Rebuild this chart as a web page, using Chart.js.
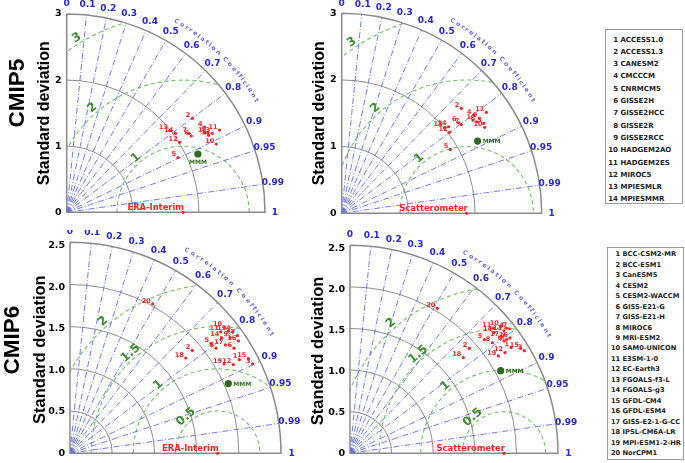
<!DOCTYPE html>
<html>
<head>
<meta charset="utf-8">
<script src="https://cdn.jsdelivr.net/npm/chart.js@4.4.0/dist/chart.umd.min.js"></script>
<style>
  body { margin: 0; background: #fff; }
  #wrap { position: relative; width: 685px; height: 463px; overflow: hidden; background: #fff; }
  #wrap canvas { position: absolute; }
  .group { position: absolute; font-family: "Liberation Sans", sans-serif; font-weight: bold; font-size: 22.5px;
           color: #000; white-space: nowrap; transform: translate(-50%, -50%) rotate(-90deg); }
  .legend { position: absolute; box-sizing: border-box; border: 1px solid #9a9a9a; background: #fff;
            font-family: "DejaVu Sans", sans-serif; font-weight: bold; color: #222; }
  .legend .item { position: absolute; left: 0; white-space: nowrap; color: #222; }
  .legend .num { display: inline-block; text-align: right; color: #222; }
</style>
</head>
<body>
<div id="wrap">
  <canvas id="c5era" width="300" height="230" style="left:0;top:0"></canvas>
  <canvas id="c5sca" width="300" height="230" style="left:300px;top:0"></canvas>
  <canvas id="c6era" width="300" height="233" style="left:0;top:230px"></canvas>
  <canvas id="c6sca" width="300" height="233" style="left:300px;top:230px"></canvas>
  <div class="group" style="left:16.7px;top:92.5px">CMIP5</div>
  <div class="group" style="left:11.7px;top:340px">CMIP6</div>
  <div class="legend" id="leg5" style="left:605px;top:29px;width:78px;height:175px"></div>
  <div class="legend" id="leg6" style="left:606.7px;top:247.3px;width:77px;height:213px"></div>
</div>
<script>
// Correlation spokes / labels
const corrTicks = [0, 0.1, 0.2, 0.3, 0.4, 0.5, 0.6, 0.7, 0.8, 0.9, 0.95, 0.99, 1];

// Model names
const cmip5Models = ['ACCESS1.0', 'ACCESS1.3', 'CANESM2', 'CMCCCM', 'CNRMCM5', 'GISSE2H', 'GISSE2HCC',
    'GISSE2R', 'GISSE2RCC', 'HADGEM2AO', 'HADGEM2ES', 'MIROC5', 'MPIESMLR', 'MPIESMMR'];
const cmip6Models = ['BCC-CSM2-MR', 'BCC-ESM1', 'CanESM5', 'CESM2', 'CESM2-WACCM', 'GISS-E21-G', 'GISS-E21-H',
    'MIROC6', 'MRI-ESM2', 'SAM0-UNICON', 'E3SM-1-0', 'EC-Earth3', 'FGOALS-f3-L', 'FGOALS-g3', 'GFDL-CM4',
    'GFDL-ESM4', 'GISS-E2-1-G-CC', 'IPSL-CM6A-LR', 'MPI-ESM1-2-HR', 'NorCPM1'];

// Point positions in the diagram plane (x = std*corr, y = std*sin(acos corr))
const cmip5EraX = [2.086, 1.900, 2.202, 2.086, 1.683, 1.885, 1.849, 2.146, 2.136, 2.262, 2.312, 1.709, 1.558, 1.644];
const cmip5EraY = [1.199, 1.421, 1.195, 1.290, 0.827, 1.154, 1.195, 1.165, 1.204, 1.033, 1.244, 1.059, 1.234, 1.195];
const cmip5EraMMM = [1.985, 0.882];
const cmip5SatX = [1.970, 1.794, 2.130, 1.979, 1.628, 1.754, 1.794, 2.030, 2.065, 2.144, 2.170, 1.618, 1.543, 1.603];
const cmip5SatY = [1.398, 1.574, 1.349, 1.474, 0.958, 1.358, 1.331, 1.373, 1.424, 1.289, 1.514, 1.214, 1.283, 1.298];
const cmip5SatMMM = [2.039, 1.083];

const cmip6EraX = [2.006, 1.449, 2.164, 1.927, 1.671, 1.943, 1.983, 1.730, 1.896, 1.825,
                   1.785, 1.935, 1.876, 1.793, 2.113, 1.995, 1.840, 1.371, 1.825, 0.980];
const cmip6EraY = [1.129, 1.240, 1.078, 1.465, 1.323, 1.268, 1.418, 1.268, 1.394, 1.517,
                   1.465, 1.070, 1.473, 1.394, 1.141, 1.355, 1.307, 1.149, 1.078, 1.801];
const cmip6EraMMM = [1.876, 0.841];
const cmip6SatX = [1.936, 1.434, 2.095, 1.875, 1.614, 1.851, 1.915, 1.711, 1.883, 1.811,
                   1.722, 1.863, 1.851, 1.730, 2.052, 1.923, 1.815, 1.362, 1.783, 1.050];
const cmip6SatY = [1.292, 1.280, 1.252, 1.528, 1.388, 1.372, 1.520, 1.349, 1.392, 1.549,
                   1.528, 1.229, 1.493, 1.473, 1.280, 1.408, 1.420, 1.168, 1.188, 1.769];
const cmip6SatMMM = [1.811, 1.008];

// Reference std (observations)
const refEra5 = 1.76, refSat5 = 1.875, refEra6 = 1.75, refSat6 = 1.85;

// Grid circles
const stdCircles5 = [1, 2], rmsCircles5 = [1, 2, 3];
const stdCircles6 = [0.5, 1, 1.5, 2], rmsCircles6 = [0.5, 1, 1.5, 2];

const RED = '#ff1f1f';
const MMM_GREEN = '#2f6b1f';
const BLUE = '#2626dd';
const SPOKE = '#5566f5';
const RMS_GREEN = '#72c266';
const DEG = Math.PI / 180;

// Taylor grid + labels plugin
function taylorPlugin(cfg) {
    function frame(chart) {
        const xs = chart.scales.x, ys = chart.scales.y;
        const ox = xs.getPixelForValue(0), oy = ys.getPixelForValue(0);
        const k = xs.getPixelForValue(1) - ox;
        return { ox, oy, k, Rp: cfg.R * k, refX: xs.getPixelForValue(cfg.ref) };
    }
    return {
        id: 'taylor',
        beforeDatasetsDraw(chart) {
            const ctx = chart.ctx;
            const { ox, oy, k, Rp, refX } = frame(chart);
            ctx.save();
            ctx.beginPath();
            ctx.moveTo(ox, oy);
            ctx.lineTo(ox + Rp, oy);
            ctx.arc(ox, oy, Rp, 0, -Math.PI / 2, true);
            ctx.closePath();
            ctx.clip();

            // RMS circles round the reference
            ctx.strokeStyle = RMS_GREEN;
            ctx.lineWidth = 1.1;
            ctx.setLineDash([4, 3]);
            cfg.rms.forEach(r => {
                ctx.beginPath();
                ctx.arc(refX, oy, r * k, Math.PI, 2 * Math.PI, false);
                ctx.stroke();
            });

            // std circles
            ctx.setLineDash([]);
            ctx.strokeStyle = '#8f8f8f';
            ctx.lineWidth = 1;
            cfg.std.forEach(r => {
                ctx.beginPath();
                ctx.arc(ox, oy, r * k, -Math.PI / 2, 0, false);
                ctx.stroke();
            });

            // correlation spokes
            ctx.strokeStyle = SPOKE;
            ctx.lineWidth = 0.85;
            ctx.setLineDash([6, 2, 1, 2]);
            corrTicks.filter(c => c > 0 && c < 1).forEach(c => {
                const a = Math.acos(c);
                ctx.beginPath();
                ctx.moveTo(ox, oy);
                ctx.lineTo(ox + Rp * Math.cos(a), oy - Rp * Math.sin(a));
                ctx.stroke();
            });
            ctx.restore();

            // outer frame
            ctx.save();
            ctx.strokeStyle = '#8a8a8a';
            ctx.lineWidth = 1.5;
            ctx.beginPath();
            ctx.moveTo(ox, oy - Rp);
            ctx.lineTo(ox, oy);
            ctx.lineTo(ox + Rp, oy);
            ctx.arc(ox, oy, Rp, 0, -Math.PI / 2, true);
            ctx.stroke();

            // correlation labels
            ctx.fillStyle = BLUE;
            ctx.font = 'bold 9px "DejaVu Sans"';
            ctx.textAlign = 'center';
            ctx.textBaseline = 'middle';
            corrTicks.forEach(c => {
                const a = Math.acos(c);
                const r = Rp * 1.05;
                ctx.fillText(String(c), ox + r * Math.cos(a), oy - r * Math.sin(a));
            });

            // "Correlation Coefficient" along the arc
            const title = 'Correlation Coefficient';
            ctx.font = 'bold 6px "DejaVu Sans"';
            ctx.fillStyle = '#6464ea';
            const rr = Rp * 1.11;
            const a0 = 61, a1 = 30;
            const widths = title.split('').map(ch => ctx.measureText(ch).width);
            const total = widths.reduce((s, w) => s + w, 0);
            let acc = 0;
            title.split('').forEach((ch, i) => {
                const phi = a0 - (a0 - a1) * (acc + widths[i] / 2) / total;
                acc += widths[i];
                ctx.save();
                ctx.translate(ox + rr * Math.cos(phi * DEG), oy - rr * Math.sin(phi * DEG));
                ctx.rotate((90 - phi) * DEG);
                ctx.fillText(ch, 0, 0);
                ctx.restore();
            });

            // RMS labels
            ctx.fillStyle = '#3a8f2c';
            ctx.font = 'bold 12px "DejaVu Sans"';
            cfg.rms.forEach(r => {
                const lr = r * k + 6;
                let phi = 131;
                const minX = 0.05 * Rp;
                if (refX - ox + lr * Math.cos(phi * DEG) < minX) {
                    phi = Math.acos((minX - (refX - ox)) / lr) / DEG;
                }
                ctx.save();
                ctx.translate(refX + lr * Math.cos(phi * DEG), oy - lr * Math.sin(phi * DEG));
                ctx.rotate((90 - phi) * DEG);
                ctx.fillText(String(r), 0, 0);
                ctx.restore();
            });
            ctx.restore();
        },
        afterDatasetsDraw(chart) {
            const ctx = chart.ctx;
            const { oy, refX } = frame(chart);
            ctx.save();
            // model numbers
            ctx.fillStyle = RED;
            ctx.font = 'bold 6.5px "DejaVu Sans"';
            ctx.textAlign = 'right';
            ctx.textBaseline = 'middle';
            chart.getDatasetMeta(0).data.forEach((pt, i) => {
                ctx.fillText(String(i + 1), pt.x - 2, pt.y - 3);
            });
            // MMM
            const m = chart.getDatasetMeta(1).data[0];
            ctx.fillStyle = MMM_GREEN;
            ctx.font = 'bold 6px "DejaVu Sans"';
            if (cfg.mmmBelow) {
                ctx.textAlign = 'center';
                ctx.fillText('MMM', m.x, m.y + 8);
            } else {
                ctx.textAlign = 'left';
                ctx.fillText('MMM', m.x + 5, m.y + 0.5);
            }
            // reference
            ctx.fillStyle = RED;
            ctx.font = 'bold 8.4px "DejaVu Sans"';
            ctx.textAlign = 'right';
            ctx.fillText(cfg.refName, refX + 1, oy - 4);
            ctx.restore();
        }
    };
}

function taylorPanel(id, cfg) {
    const canvas = document.getElementById(id);
    const models = cfg.xs.map((x, i) => ({ x: x, y: cfg.ys[i] }));
    return new Chart(canvas.getContext('2d'), {
        type: 'scatter',
        data: {
            datasets: [
                { label: 'models', data: models, backgroundColor: RED, borderWidth: 0, pointRadius: 1.6, clip: false },
                { label: 'MMM', data: [{ x: cfg.mmm[0], y: cfg.mmm[1] }], backgroundColor: MMM_GREEN,
                  borderWidth: 0, pointRadius: 3.6, clip: false },
                { label: cfg.refName, data: [{ x: cfg.ref, y: 0 }], backgroundColor: RED,
                  borderWidth: 0, pointRadius: 1.6, clip: false }
            ]
        },
        options: {
            responsive: false,
            animation: false,
            devicePixelRatio: 1,
            layout: { padding: cfg.pad },
            plugins: { legend: { display: false }, tooltip: { enabled: false } },
            scales: {
                x: { type: 'linear', display: false, min: 0, max: cfg.R },
                y: {
                    type: 'linear', min: 0, max: cfg.R,
                    grid: { display: false, drawTicks: false },
                    border: { display: false },
                    ticks: {
                        stepSize: cfg.step, padding: 5, color: '#000',
                        font: { family: 'DejaVu Sans', weight: 'bold', size: 9.5, lineHeight: 1 }
                    },
                    title: {
                        display: true, text: 'Standard deviation', color: '#000',
                        font: { family: 'Liberation Sans', weight: 'bold', size: cfg.titleSize, lineHeight: 1.2 },
                        padding: { top: cfg.titlePad, bottom: 0 }
                    },
                    afterFit: (s) => { s.width = cfg.axisW; }
                }
            }
        },
        plugins: [taylorPlugin(cfg)]
    });
}

function fillLegend(id, names, opts) {
    const box = document.getElementById(id);
    names.forEach((name, i) => {
        const row = document.createElement('div');
        row.className = 'item';
        row.style.fontSize = opts.size + 'px';
        row.style.lineHeight = opts.line + 'px';
        row.style.top = (opts.first + i * opts.step - opts.line / 2) + 'px';
        row.innerHTML = `<span class="num" style="width:${opts.numRight}px">${i + 1}</span> ${name}`;
        box.appendChild(row);
    });
}

document.addEventListener('DOMContentLoaded', () => {
    taylorPanel('c5era', {
        xs: cmip5EraX, ys: cmip5EraY, mmm: cmip5EraMMM, ref: refEra5, refName: 'ERA-Interim',
        R: 3, step: 1, std: stdCircles5, rms: rmsCircles5, mmmBelow: true,
        axisW: 66.7, pad: { left: 0, top: 14, right: 35, bottom: 17.7 }, titleSize: 16, titlePad: 35.4
    });
    taylorPanel('c5sca', {
        xs: cmip5SatX, ys: cmip5SatY, mmm: cmip5SatMMM, ref: refSat5, refName: 'Scatterometer',
        R: 3, step: 1, std: stdCircles5, rms: rmsCircles5,
        axisW: 41.7, pad: { left: 0, top: 13.3, right: 58.3, bottom: 16.7 }, titleSize: 16, titlePad: 10.4
    });
    taylorPanel('c6era', {
        xs: cmip6EraX, ys: cmip6EraY, mmm: cmip6EraMMM, ref: refEra6, refName: 'ERA-Interim',
        R: 2.5, step: 0.5, std: stdCircles6, rms: rmsCircles6,
        axisW: 70, pad: { left: 0, top: 16, right: 19, bottom: 6 }, titleSize: 16.5, titlePad: 30.1
    });
    taylorPanel('c6sca', {
        xs: cmip6SatX, ys: cmip6SatY, mmm: cmip6SatMMM, ref: refSat6, refName: 'Scatterometer',
        R: 2.5, step: 0.5, std: stdCircles6, rms: rmsCircles6,
        axisW: 50, pad: { left: 0, top: 18.5, right: 42, bottom: 6.5 }, titleSize: 16.5, titlePad: 8.4
    });

    fillLegend('leg5', cmip5Models, { size: 7, line: 9, first: 10, step: 12.3, numRight: 12 });
    fillLegend('leg6', cmip6Models, { size: 6.7, line: 8, first: 6, step: 10.46, numRight: 12.5 });
});
</script>
</body>
</html>
